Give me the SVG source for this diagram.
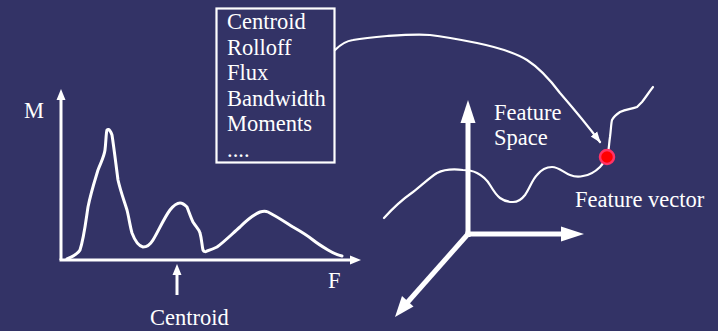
<svg xmlns="http://www.w3.org/2000/svg" width="718" height="331" viewBox="0 0 718 331">
<style>
text{font-family:"Liberation Serif","Times New Roman",serif;font-size:22.5px;fill:#ffffff}
.crv{fill:none;stroke:#ffffff;stroke-width:3;stroke-linejoin:round;stroke-linecap:round}
.thin{fill:none;stroke:#ffffff;stroke-width:2.2;stroke-linecap:round}
.ax{stroke:#ffffff;stroke-width:3}
.ax3{stroke:#ffffff;stroke-width:5}
.hd{fill:#ffffff}
</style>
<defs>
<marker id="arr" markerWidth="12" markerHeight="10" refX="10" refY="5" orient="auto" markerUnits="userSpaceOnUse">
<path d="M0,1 L11,5 L0,9 Z" fill="#ffffff"/>
</marker>
</defs>
<rect width="718" height="331" fill="#333366"/>
<g id="features-box">
<rect x="216.5" y="8.5" width="118" height="154" fill="none" stroke="#ffffff" stroke-width="2.2"/>
<text x="227" y="29">Centroid</text>
<text x="227" y="54.5">Rolloff</text>
<text x="227" y="80">Flux</text>
<text x="227" y="106">Bandwidth</text>
<text x="227" y="131">Moments</text>
<text x="227" y="157">....</text>
</g>
<g id="spectrum">
<line class="ax" x1="61" y1="260" x2="61" y2="98"/>
<polygon class="hd" points="61,89 56.5,100 65.5,100"/>
<line class="ax" x1="59.5" y1="260" x2="352" y2="260"/>
<polygon class="hd" points="361,260 350,255.5 350,264.5"/>
<text x="24" y="118">M</text>
<text x="328" y="288">F</text>
<path class="crv" d="M67,259 C74,256 78,254 80,250 C84,238 86,220 88,207 C91,192 95,180 98,170 C101,162 104,157 105,150 C106,142 106,133 107,130 C109,128 111,132 112,135 C114,148 116,165 118,180 C121,193 124,200 127,210 C129,218 130,226 132,233 C135,241 139,246 143,247 C147,247 150,245 153,240 C158,232 164,218 170,210 C174,205 177,203 180,203 C183,203 185,205 187,207 C189,212 191,218 193,222 C196,227 199,229 200,233 C202,240 202,247 203,250 C204,252 206,252 207,251 C210,250 213,249 217,247 C224,242 232,234 240,227 C247,220 253,215 260,212 C263,211 266,211 268,212 C276,216 285,222 293,227 C300,231 307,235 313,240 C318,244 323,247 328,250 C333,253 337,255 342,256"/>
<line class="ax" x1="177" y1="274" x2="177" y2="295"/>
<polygon class="hd" points="177,264 172.5,275 181.5,275"/>
<text x="150" y="325">Centroid</text>
</g>
<g id="feature-space">
<line class="ax3" x1="468" y1="237" x2="468" y2="120"/>
<polygon class="hd" points="468,100 460.5,123 475.5,123"/>
<line class="ax3" x1="465.5" y1="234" x2="563" y2="234"/>
<polygon class="hd" points="584,234 561,226.5 561,241.5"/>
<line class="ax3" x1="468" y1="234" x2="406" y2="304"/>
<polygon class="hd" points="395,317 402,296 413.5,306.5"/>
<text x="494" y="120">Feature</text>
<text x="494" y="145">Space</text>
<path class="thin" d="M384,218 C393,208 403,199 413,192 C421,186 429,178 437,173 C445,169 455,169 463,170 C469,170 473,171 477,173 C483,176 487,180 490,185 C493,190 496,195 500,198 C504,201 509,202 513,202 C518,202 522,199 525,195 C530,188 532,180 537,175 C541,170 546,167 552,167 C559,167 564,173 570,175 C575,177 579,177 583,176 C590,175 596,171 600,167 C603,164 605,160 607,157 C609,151 609,143 610,137 C611,130 611,124 612,120 C614,116 617,114 620,112 C626,109 632,109 637,107 C639,105 640,104 642,102 C646,97 649,92 653,87"/>
<circle cx="607" cy="157" r="7" fill="#ff0000" stroke="#ff3366" stroke-width="2.5"/>
<text x="575" y="207">Feature vector</text>
</g>
<g id="connectors">
<path class="thin" marker-end="url(#arr)" d="M335,50 C340,45 346,41 353,40 C364,38 375,37 387,36 C402,35 416,34 430,35 C447,37 462,40 477,43 C496,47 514,52 527,60 C541,69 551,81 560,93 C573,108 588,126 600,142"/>
</g>
</svg>
